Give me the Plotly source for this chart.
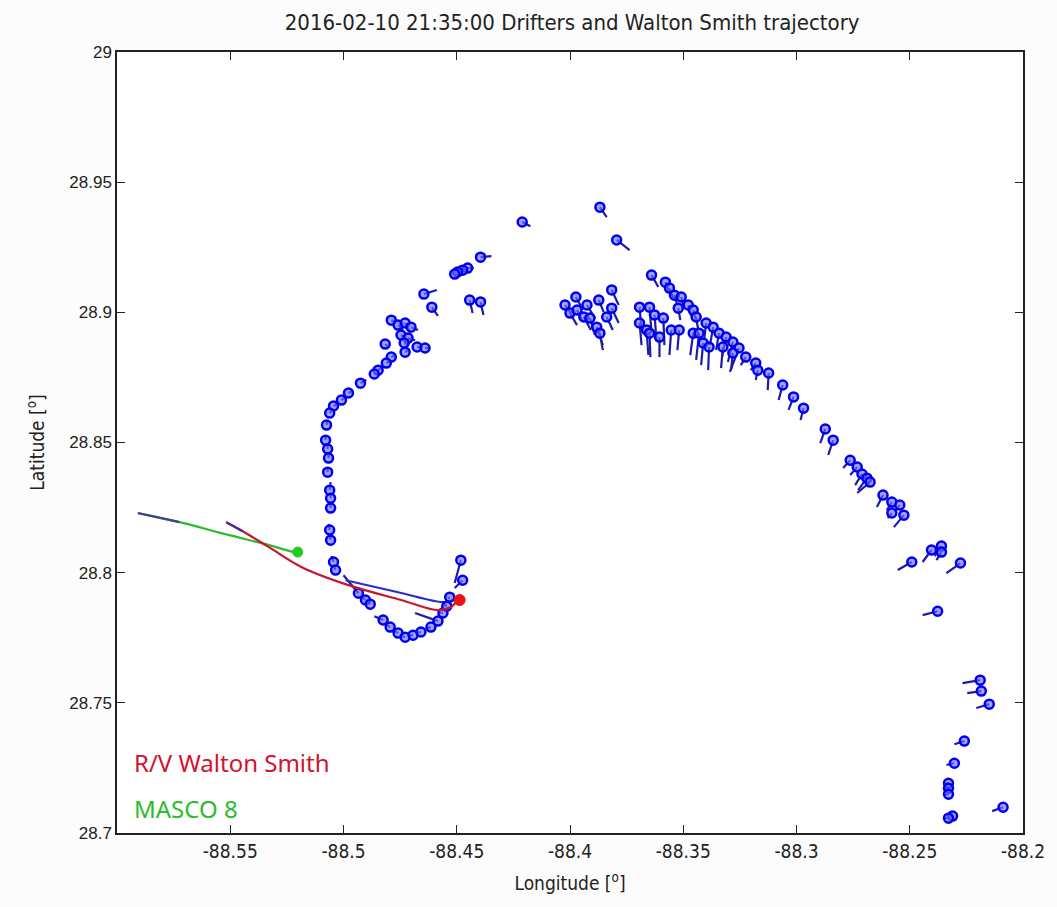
import plotly.graph_objects as go

# ---------------- data ----------------
# drifter head positions (lon, lat) and tail ends (lon, lat)
head_lon = [
    -88.4211, -88.4395, -88.4452, -88.4474, -88.4496, -88.4509, -88.4645, -88.4610, -88.4443, -88.4395,
    -88.4789, -88.4759, -88.4728, -88.4702, -88.4746, -88.4715, -88.4732, -88.4816, -88.4675, -88.4640,
    -88.4728, -88.4789, -88.4811, -88.4847, -88.4864, -88.4925, -88.4978, -88.5009, -88.5044, -88.5061,
    -88.5075, -88.5079, -88.5070, -88.5066, -88.5070, -88.5061, -88.5057, -88.5057, -88.5061, -88.5057,
    -88.5044, -88.5035, -88.4934, -88.4903, -88.4882, -88.4825, -88.4794, -88.4759, -88.4728, -88.4693,
    -88.4658, -88.4614, -88.4583, -88.4561, -88.4544, -88.4531, -88.4482, -88.4474,
    -88.3868, -88.3794, -88.3640, -88.3579, -88.3561, -88.3539, -88.3509, -88.3522, -88.3478, -88.3456,
    -88.3443, -88.3399, -88.3368, -88.3342, -88.3311, -88.3281, -88.3254, -88.3224, -88.3180, -88.3171,
    -88.3123, -88.3061, -88.3013, -88.2969, -88.2873, -88.2838, -88.2763, -88.2732, -88.2711, -88.2689,
    -88.2675, -88.2618, -88.2579, -88.2544, -88.2579, -88.2526, -88.2491, -88.2404, -88.2360, -88.2360,
    -88.2276, -88.2377, -88.2189, -88.2184, -88.2149, -88.2259, -88.2303, -88.2329, -88.2329, -88.2329,
    -88.2311, -88.2329, -88.2088,
    -88.4022, -88.3974, -88.4000, -88.3969, -88.3939, -88.3912, -88.3873, -88.3882, -88.3868, -88.3816,
    -88.3816, -88.3838, -88.3925,
    -88.3693, -88.3649, -88.3627, -88.3588, -88.3693, -88.3662, -88.3649, -88.3605, -88.3553, -88.3518,
    -88.3456, -88.3430, -88.3412, -88.3386, -88.3325, -88.3281,
]
head_lat = [
    28.9347, 28.9212, 28.9170, 28.9162, 28.9155, 28.9147, 28.9070, 28.9020, 28.9047, 28.9040,
    28.8970, 28.8951, 28.8959, 28.8943, 28.8913, 28.8901, 28.8882, 28.8878, 28.8867, 28.8863,
    28.8847, 28.8828, 28.8805, 28.8778, 28.8763, 28.8728, 28.8690, 28.8663, 28.8640, 28.8613,
    28.8567, 28.8509, 28.8475, 28.8440, 28.8386, 28.8317, 28.8286, 28.8248, 28.8164, 28.8125,
    28.8041, 28.8010, 28.7921, 28.7895, 28.7879, 28.7818, 28.7791, 28.7768, 28.7752, 28.7760,
    28.7772, 28.7791, 28.7814, 28.7845, 28.7871, 28.7906, 28.8048, 28.7971,
    28.9404, 28.9278, 28.9143, 28.9116, 28.9093, 28.9066, 28.9059, 28.9016, 28.9028, 28.9009,
    28.8982, 28.8959, 28.8943, 28.8920, 28.8905, 28.8886, 28.8863, 28.8828, 28.8805, 28.8778,
    28.8767, 28.8721, 28.8675, 28.8632, 28.8552, 28.8509, 28.8432, 28.8406, 28.8379, 28.8363,
    28.8348, 28.8298, 28.8271, 28.8260, 28.8229, 28.8221, 28.8041, 28.8087, 28.8102, 28.8079,
    28.8037, 28.7852, 28.7587, 28.7545, 28.7495, 28.7353, 28.7268, 28.7191, 28.7172, 28.7149,
    28.7065, 28.7057, 28.7099,
    28.9028, 28.9059, 28.8997, 28.9009, 28.8982, 28.8978, 28.9047, 28.8943, 28.8920, 28.9086,
    28.9016, 28.8982, 28.9028,
    28.9020, 28.9020, 28.8990, 28.8978, 28.8959, 28.8932, 28.8920, 28.8905, 28.8932, 28.8932,
    28.8920, 28.8920, 28.8882, 28.8867, 28.8867, 28.8844,
]
tail_lon = [
    -88.4175, -88.4347, -88.4425, -88.4452, -88.4474, -88.4487, -88.4588, -88.4583, -88.4430, -88.4382,
    -88.4768, -88.4737, -88.4706, -88.4671, -88.4724, -88.4684, -88.4715, -88.4807, -88.4653, -88.4627,
    -88.4715, -88.4776, -88.4798, -88.4833, -88.4851, -88.4899, -88.4961, -88.4996, -88.5031, -88.5053,
    -88.5070, -88.5079, -88.5070, -88.5066, -88.5070, -88.5057, -88.5057, -88.5057, -88.5066, -88.5061,
    -88.5053, -88.5044, -88.5000, -88.4925, -88.4899, -88.4864, -88.4820, -88.4781, -88.4750, -88.4715,
    -88.4680, -88.4636, -88.4684, -88.4583, -88.4557, -88.4539, -88.4509, -88.4509,
    -88.3838, -88.3737, -88.3610, -88.3561, -88.3544, -88.3526, -88.3496, -88.3513, -88.3465, -88.3443,
    -88.3434, -88.3408, -88.3382, -88.3355, -88.3329, -88.3303, -88.3294, -88.3246, -88.3202, -88.3180,
    -88.3127, -88.3079, -88.3035, -88.2982, -88.2895, -88.2860, -88.2794, -88.2763, -88.2741, -88.2728,
    -88.2732, -88.2645, -88.2601, -88.2566, -88.2597, -88.2570, -88.2553, -88.2443, -88.2390, -88.2382,
    -88.2338, -88.2443, -88.2267, -88.2246, -88.2206, -88.2303, -88.2338, -88.2351, -88.2351, -88.2351,
    -88.2338, -88.2347, -88.2136,
    -88.3991, -88.3943, -88.3969, -88.3947, -88.3908, -88.3890, -88.3851, -88.3855, -88.3855, -88.3785,
    -88.3785, -88.3811, -88.3890,
    -88.3684, -88.3640, -88.3618, -88.3583, -88.3684, -88.3654, -88.3645, -88.3605, -88.3561, -88.3526,
    -88.3469, -88.3443, -88.3421, -88.3390, -88.3333, -88.3289,
]
tail_lat = [
    28.9331, 28.9216, 28.9170, 28.9162, 28.9155, 28.9151, 28.9086, 28.8986, 28.8997, 28.8990,
    28.8963, 28.8932, 28.8924, 28.8932, 28.8893, 28.8893, 28.8874, 28.8870, 28.8867, 28.8863,
    28.8855, 28.8836, 28.8813, 28.8786, 28.8770, 28.8740, 28.8698, 28.8671, 28.8648, 28.8624,
    28.8586, 28.8529, 28.8494, 28.8459, 28.8406, 28.8348, 28.8306, 28.8267, 28.8187, 28.8144,
    28.8064, 28.8029, 28.7990, 28.7910, 28.7891, 28.7833, 28.7806, 28.7779, 28.7760, 28.7756,
    28.7768, 28.7787, 28.7845, 28.7848, 28.7879, 28.7902, 28.7960, 28.7941,
    28.9366, 28.9239, 28.9097, 28.9074, 28.9055, 28.9028, 28.9016, 28.8970, 28.8986, 28.8963,
    28.8932, 28.8893, 28.8874, 28.8855, 28.8828, 28.8809, 28.8771, 28.8797, 28.8778, 28.8740,
    28.8701, 28.8663, 28.8625, 28.8586, 28.8498, 28.8452, 28.8402, 28.8375, 28.8336, 28.8317,
    28.8306, 28.8252, 28.8240, 28.8233, 28.8210, 28.8175, 28.8010, 28.8041, 28.8064, 28.8048,
    28.7998, 28.7837, 28.7576, 28.7537, 28.7480, 28.7341, 28.7261, 28.7188, 28.7169, 28.7145,
    28.7057, 28.7057, 28.7084,
    28.8990, 28.9009, 28.8951, 28.8970, 28.8932, 28.8913, 28.9001, 28.8874, 28.8855, 28.9028,
    28.8959, 28.8932, 28.8978,
    28.8932, 28.8924, 28.8893, 28.8874, 28.8874, 28.8836, 28.8828, 28.8828, 28.8836, 28.8855,
    28.8836, 28.8817, 28.8797, 28.8778, 28.8786, 28.8778,
]

# R/V Walton Smith track
ship_lon = [-88.5518, -88.5447, -88.5329, -88.5184, -88.4978, -88.4746, -88.4583, -88.4526, -88.4496]
ship_lat = [28.8194, 28.8160, 28.8098, 28.8021, 28.7952, 28.7895, 28.7856, 28.7868, 28.7895]
ship_head = (-88.4487, 28.7895)

# earlier ship track (blue)
prev_lon = [-88.4991, -88.4759, -88.4561, -88.4518]
prev_lat = [28.7971, 28.7925, 28.7887, 28.7895]

# MASCO 8 track
masco_lon = [-88.5908, -88.5724, -88.5504, -88.5329, -88.5206]
masco_lat = [28.8229, 28.8194, 28.8144, 28.8106, 28.8075]
masco_head = (-88.5202, 28.8079)

x_ticks = [-88.55, -88.5, -88.45, -88.4, -88.35, -88.3, -88.25, -88.2]
x_labels = ["-88.55", "-88.5", "-88.45", "-88.4", "-88.35", "-88.3", "-88.25", "-88.2"]
y_ticks = [28.7, 28.75, 28.8, 28.85, 28.9, 28.95, 29.0]
y_labels = ["28.7", "28.75", "28.8", "28.85", "28.9", "28.95", "29"]

title = "2016-02-10 21:35:00 Drifters and Walton Smith trajectory"

NARROW = "DejaVu Sans Condensed, Liberation Sans, Arial"

# ---------------- figure ----------------
fig = go.Figure()

tx, ty = [], []
for hx, hy, ex, ey in zip(head_lon, head_lat, tail_lon, tail_lat):
    tx += [hx, ex, None]
    ty += [hy, ey, None]

fig.add_trace(go.Scatter(x=tx, y=ty, mode="lines",
                         line=dict(color="#1c1ca8", width=2.2), hoverinfo="skip"))
fig.add_trace(go.Scatter(x=prev_lon, y=prev_lat, mode="lines",
                         line=dict(color="#2a2ad0", width=2, shape="spline"), hoverinfo="skip"))
fig.add_trace(go.Scatter(x=head_lon, y=head_lat, mode="markers",
                         marker=dict(symbol="circle", size=9, color="rgba(110,110,255,0.65)",
                                     line=dict(color="#0000f0", width=2.5))))
fig.add_trace(go.Scatter(x=masco_lon, y=masco_lat, mode="lines",
                         line=dict(color="#2dbb2d", width=2.2, shape="spline")))
fig.add_trace(go.Scatter(x=masco_lon[:2], y=masco_lat[:2], mode="lines",
                         line=dict(color="#4a3a9a", width=2.2)))
fig.add_trace(go.Scatter(x=[masco_head[0]], y=[masco_head[1]], mode="markers",
                         marker=dict(size=10, color="#22cc22", line=dict(color="#22cc22", width=1))))
fig.add_trace(go.Scatter(x=ship_lon, y=ship_lat, mode="lines",
                         line=dict(color="#c8142e", width=2.2, shape="spline")))
fig.add_trace(go.Scatter(x=ship_lon[:2], y=ship_lat[:2], mode="lines",
                         line=dict(color="#4a2aa0", width=2.2)))
fig.add_trace(go.Scatter(x=[ship_head[0]], y=[ship_head[1]], mode="markers",
                         marker=dict(size=11, color="#ee1111", line=dict(color="#ee1111", width=1))))

axis_common = dict(showgrid=False, zeroline=False, showline=True, linecolor="#222",
                   linewidth=1.5, mirror="ticks", ticks="inside", ticklen=8, tickwidth=1.2,
                   tickcolor="#222")

fig.update_layout(
    width=1057, height=907,
    margin=dict(l=117, r=29, t=52, b=74),
    paper_bgcolor="#fbfcfb", plot_bgcolor="#ffffff",
    showlegend=False,
    title=dict(text=title, x=0.5413, xanchor="center", y=0.975, yanchor="middle",
               font=dict(family=NARROW, size=22, color="#222")),
    xaxis=dict(range=[-88.6, -88.2], tickvals=x_ticks, ticktext=x_labels,
               tickfont=dict(family=NARROW, size=19, color="#222"),
               title=dict(text="Longitude [<sup>o</sup>]", standoff=16,
                          font=dict(family=NARROW, size=19, color="#222")),
               **axis_common),
    yaxis=dict(range=[28.7, 29.0], tickvals=y_ticks, ticktext=y_labels,
               tickfont=dict(family="Liberation Sans, Arial", size=17, color="#222"),
               title=dict(text="Latitude [<sup>o</sup>]", standoff=20,
                          font=dict(family=NARROW, size=19, color="#222")),
               **axis_common),
)

fig.add_annotation(text="R/V Walton Smith", xref="paper", yref="paper", x=0.017, y=0.09,
                   xanchor="left", yanchor="middle", showarrow=False,
                   font=dict(family="Noto Sans, Open Sans", size=24, color="#d2122e"))
fig.add_annotation(text="MASCO 8", xref="paper", yref="paper", x=0.017, y=0.032,
                   xanchor="left", yanchor="middle", showarrow=False,
                   font=dict(family="Noto Sans, Open Sans", size=24, color="#2dbb2d"))

fig.write_html("out.html")
